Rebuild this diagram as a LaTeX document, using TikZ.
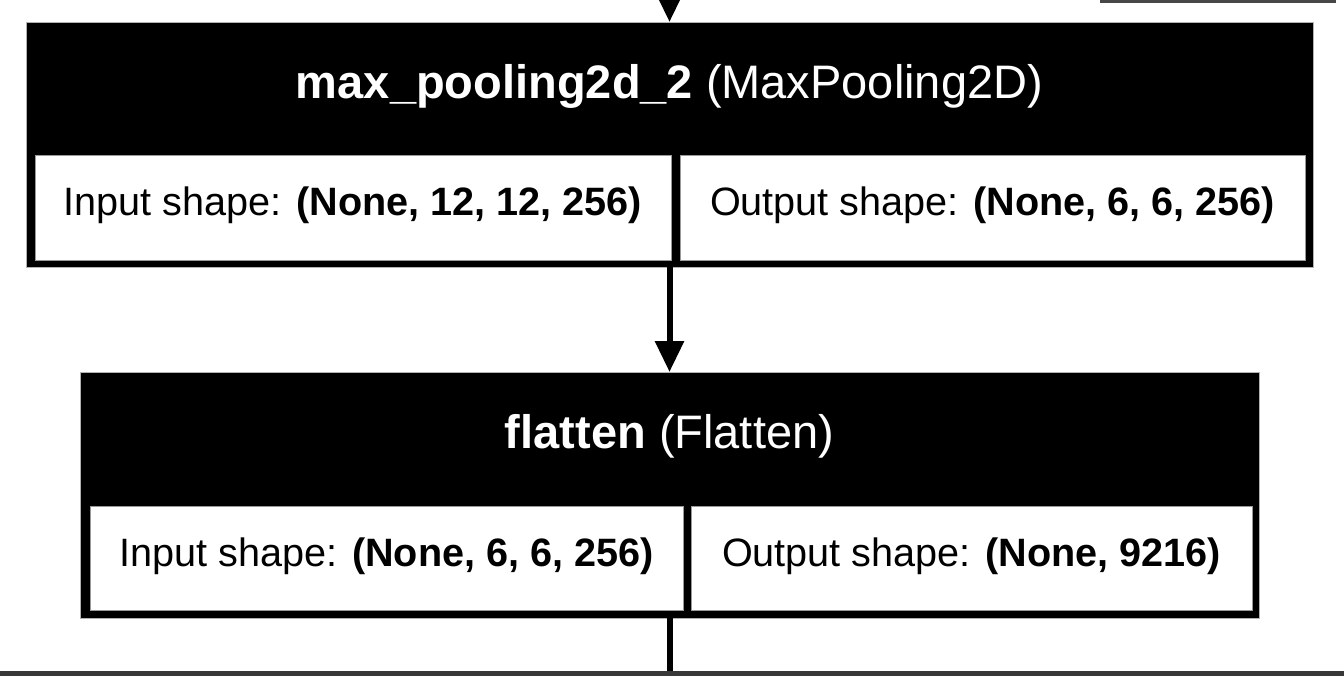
\documentclass[tikz,border=0pt]{standalone}
\usepackage{fontspec}
\setmainfont{Liberation Sans}
\usetikzlibrary{arrows.meta}
\begin{document}
\begin{tikzpicture}[x=0.5pt,y=-0.5pt,
  layerbox/.style={rectangle, fill=black, draw=black!30, line width=0.4pt, inner sep=0pt, outer sep=0pt},
  cellbox/.style={rectangle, fill=white, draw=black!40, line width=0.4pt, inner sep=0pt, outer sep=0pt},
  headtext/.style={text=white, font=\fontsize{23.5}{27}\selectfont, anchor=base, inner sep=0pt},
  celltext/.style={text=black, font=\fontsize{19.8}{24}\selectfont, anchor=base, inner sep=0pt},
  flow/.style={line width=3pt, -{Triangle[length=15.5pt,width=14pt]}},
  plain/.style={line width=3pt},
]
\useasboundingbox (0,0) rectangle (1344,676);
% partial shapes cut by the frame
\node (prev) [rectangle, fill=black!72, inner sep=0pt, minimum width=118pt, minimum height=1.5pt, anchor=north east] at (1336,0) {};
\node (next) [rectangle, fill=black!78, inner sep=0pt, minimum width=672pt, minimum height=2.5pt, anchor=north west] at (0,671) {};
\coordinate (nexttop) at (669.5,671);
% max_pooling2d_2
\node (mp) [layerbox, minimum width=643.5pt, minimum height=122.5pt] at (669.5,144.5) {};
\node (mpin) [cellbox, minimum width=318pt, minimum height=52.5pt] at (353,207.5) {};
\node (mpout) [cellbox, minimum width=312.5pt, minimum height=52.5pt] at (992.5,207.5) {};
\node (mpt) [headtext] at (669.5,98) {\textbf{max\_pooling2d\_2} (MaxPooling2D)};
\node (mpint) [celltext] at (353,215) {Input shape: \textbf{(None, 12, 12, 256)}};
\node (mpoutt) [celltext] at (992.5,215) {Output shape: \textbf{(None, 6, 6, 256)}};
% flatten
\node (fl) [layerbox, minimum width=589.5pt, minimum height=123pt] at (669.5,495) {};
\node (flin) [cellbox, minimum width=296.5pt, minimum height=52pt] at (386.5,558) {};
\node (flout) [cellbox, minimum width=280.5pt, minimum height=52pt] at (971.5,558) {};
\node (flt) [headtext] at (669.5,448) {\textbf{flatten} (Flatten)};
\node (flint) [celltext] at (386.5,566) {Input shape: \textbf{(None, 6, 6, 256)}};
\node (floutt) [celltext] at (971.5,566) {Output shape: \textbf{(None, 9216)}};
% connectors
\coordinate (src) at (669.5,-80);
\draw[flow] (src) -- (mp.north);
\draw[flow] (mp.south) -- (fl.north);
\draw[plain] (fl.south) -- (nexttop);
\end{tikzpicture}
\end{document}
